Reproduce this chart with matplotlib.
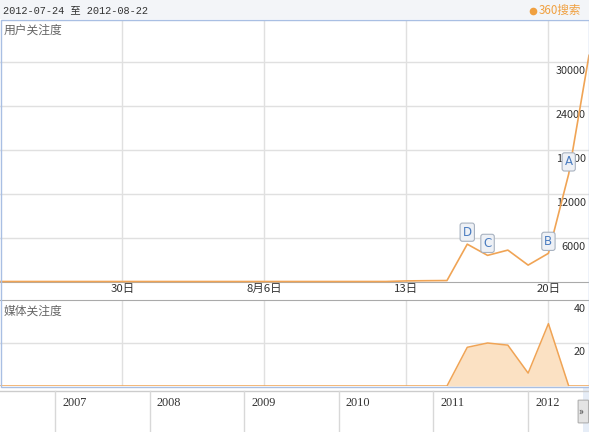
import matplotlib
matplotlib.use("Agg")
import matplotlib.pyplot as plt
from matplotlib.patches import Rectangle, FancyBboxPatch
from matplotlib.lines import Line2D

plt.rcParams['font.family'] = ['Noto Sans CJK SC', 'DejaVu Sans']

# -----------------------------
# Dados
# -----------------------------
dias = list(range(30))  # 2012-07-24 .. 2012-08-22
usuario = [0, 0, 0, 0, 0, 0, 0, 0, 0, 0,
           0, 0, 0, 0, 0, 0, 0, 0, 0, 0,
           80, 110, 130, 5100, 3570, 4290, 2240, 3850, 14700, 30900]
midia = [0, 0, 0, 0, 0, 0, 0, 0, 0, 0,
         0, 0, 0, 0, 0, 0, 0, 0, 0, 0,
         0, 0, 0, 18, 20, 19, 6, 29, 0, 0]
ticks_x = [6, 13, 20, 27]
ticks_x_lbl = ['30日', '8月6日', '13日', '20日']
ticks_y1 = [6000, 12000, 18000, 24000, 30000]
ticks_y2 = [20, 40]
flags = [('D', 23), ('C', 24), ('B', 27), ('A', 28)]
anos = [2007, 2008, 2009, 2010, 2011, 2012]

W, H = 589, 432
LARANJA = '#f0a455'
AZUL = '#a9bfe3'
GRADE = '#e0e0e0'


def box(x0, y0, x1, y1):
    return [x0 / W, 1 - y1 / H, (x1 - x0) / W, (y1 - y0) / H]


fig = plt.figure(figsize=(W / 100, H / 100), dpi=100)

# cabecalho
fig.patches.append(Rectangle((0, 1 - 19 / H), 1, 19 / H, transform=fig.transFigure,
                             fc='#f3f5f8', ec='none', zorder=0))
fig.text(3 / W, 1 - 10 / H, '2012-07-24 至 2012-08-22', fontsize=7.4, color='#333333',
         family=['Liberation Mono', 'Noto Sans CJK SC'], va='center', ha='left')
fig.lines.append(Line2D([533 / W], [1 - 10.5 / H], transform=fig.transFigure, marker='o',
                        markersize=5.5, color='#f0a040', markeredgewidth=0))
fig.text(539 / W, 1 - 10 / H, '360搜索', fontsize=8.3, color='#f0a040', va='center', ha='left')

# -----------------------------
# Painel superior - usuario
# -----------------------------
ax1 = fig.add_axes(box(0, 19.5, 589, 281.5))
ax1.set_xlim(-0.03, 29.0)
ax1.set_ylim(0, 35800)
for v in ticks_y1:
    ax1.axhline(v, color=GRADE, lw=1, zorder=0)
for t in ticks_x:
    ax1.axvline(t, color=GRADE, lw=1, zorder=0)
for v in ticks_y1:
    ax1.annotate(str(v), xy=(1, v), xycoords=('axes fraction', 'data'), xytext=(-3, -4),
                 textcoords='offset pixels', ha='right', va='top', fontsize=7.8, color='#333333',
                 zorder=2)
ax1.plot(dias, usuario, color=LARANJA, lw=1.2, zorder=3, clip_on=False)
for letra, d in flags:
    ax1.annotate(letra, xy=(d, usuario[d]), xytext=(0, 12), textcoords='offset pixels',
                 ha='center', va='center', fontsize=8.5, color='#4a7cc0', zorder=5,
                 family='DejaVu Sans',
                 bbox=dict(boxstyle='round,pad=0.22,rounding_size=0.2', fc='#eef1f6', ec='#a8b2c0', lw=0.8))
ax1.text(4 / W, 1 - 10.5 / 262, '用户关注度', transform=ax1.transAxes, fontsize=8.5, color='#666666',
         ha='left', va='center')
ax1.set_xticks(ticks_x)
ax1.set_xticklabels(ticks_x_lbl, fontsize=8.2, color='#333333')
ax1.tick_params(axis='x', length=0, pad=2)
ax1.set_yticks([])
for s in ['top', 'left', 'right']:
    ax1.spines[s].set_visible(False)
ax1.spines['bottom'].set_color('#aaaaaa')

# -----------------------------
# Painel inferior - midia
# -----------------------------
ax2 = fig.add_axes(box(0, 300, 589, 386))
ax2.set_xlim(-0.03, 29.0)
ax2.set_ylim(0, 40)
ax2.axhline(20, color=GRADE, lw=1, zorder=0)
for t in ticks_x:
    ax2.axvline(t, color=GRADE, lw=1, zorder=0)
ax2.fill_between(dias, midia, color='#fbe1c3', lw=0, zorder=1)
ax2.plot(dias, midia, color=LARANJA, lw=1.1, zorder=2)
for v in ticks_y2:
    ax2.annotate(str(v), xy=(1, v), xycoords=('axes fraction', 'data'), xytext=(-3, -4),
                 textcoords='offset pixels', ha='right', va='top', fontsize=7.8, color='#333333')
ax2.text(4 / W, 1 - 11.5 / 86, '媒体关注度', transform=ax2.transAxes, fontsize=8.5, color='#666666',
         ha='left', va='center')
ax2.set_xticks([])
ax2.set_yticks([])
for s in ['bottom', 'left', 'right']:
    ax2.spines[s].set_visible(False)
ax2.spines['top'].set_color('#aaaaaa')

# -----------------------------
# Navegador
# -----------------------------
nav = fig.add_axes(box(0, 386.5, 589, 432))
nav.set_xlim(2006.419, 2012.645)
nav.set_ylim(0, 1)
nav.axhline(1 - 4.5 / 45.5, color='#cccccc', lw=1)
for a in anos:
    nav.axvline(a, ymax=1 - 4.5 / 45.5, color='#d8d8d8', lw=1)
    nav.text(a + 0.075, 0.64, str(a), fontsize=8.8, color='#333333',
             family='Liberation Serif', ha='left', va='center')
nav.axvspan(2012.585, 2012.645, color='#e6edf7', lw=0)
nav.add_patch(FancyBboxPatch((2012.53, 0.2), 0.11, 0.5, boxstyle='round,pad=0,rounding_size=0.01',
                             fc='#e4e4e4', ec='#b0b0b0', lw=0.8, zorder=4))
nav.text(2012.56, 0.45, '»', fontsize=7, color='#333333', ha='center', va='center', zorder=5)
nav.set_xticks([])
nav.set_yticks([])
for s in nav.spines.values():
    s.set_visible(False)

# borda azul do grafico
fig.patches.append(Rectangle((0.5 / W, 1 - 386.5 / H), 588 / W, 367 / H, transform=fig.transFigure,
                             fc='none', ec=AZUL, lw=1, zorder=10))

fig.savefig('out.png', dpi=100)
